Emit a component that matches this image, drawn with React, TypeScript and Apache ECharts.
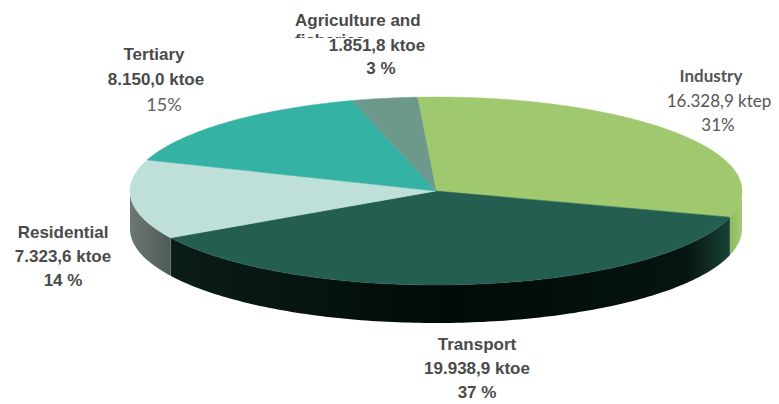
import React, { useEffect, useRef } from "react";
import * as echarts from "echarts";

// ---- data ----
const categories = ["Industry", "Transport", "Residential", "Tertiary", "Agriculture and fisheries"];
const values = [16328.9, 19938.9, 7323.6, 8150.0, 1851.8];
const units = ["ktep", "ktoe", "ktoe", "ktoe", "ktoe"];
const percentLabels = ["31%", "37 %", "14 %", "15%", "3 %"];

// ---- styles ----
const topColors = ["#a0c86f", "#235e51", "#bfe0d9", "#34b3a5", "#6c998c"];
const sideColors: any[] = [
  new echarts.graphic.LinearGradient(0, 0, 1, 0, [
    { offset: 0, color: "#8fb862" },
    { offset: 1, color: "#a4cc74" },
  ]),
  new echarts.graphic.LinearGradient(0, 0, 1, 0, [
    { offset: 0, color: "#0b1d17" },
    { offset: 0.5, color: "#020a07" },
    { offset: 0.92, color: "#06140f" },
    { offset: 1, color: "#1a4236" },
  ]),
  new echarts.graphic.LinearGradient(0, 0, 1, 0, [
    { offset: 0, color: "#6d7875" },
    { offset: 1, color: "#4e5a57" },
  ]),
  "#2a8f84",
  "#567a70",
];

// ---- geometry ----
const CX = 436;
const CY = 191;
const RX = 306;
const RY = 94;
const DEPTH = 38;
const START = -3.5; // degrees, clockwise from top

const total = values.reduce((a, b) => a + b, 0);
const starts: number[] = [];
const ends: number[] = [];
{
  let acc = START;
  values.forEach((v) => {
    starts.push(acc);
    acc += (v / total) * 360;
    ends.push(acc);
  });
}

const rad = (d: number) => (d * Math.PI) / 180;
const pt = (deg: number, dy = 0) => [CX + RX * Math.sin(rad(deg)), CY - RY * Math.cos(rad(deg)) + dy];
const arc = (a1: number, a2: number, dy = 0) => {
  const pts: number[][] = [];
  const n = Math.max(2, Math.ceil(Math.abs(a2 - a1) / 1));
  for (let k = 0; k <= n; k++) pts.push(pt(a1 + ((a2 - a1) * k) / n, dy));
  return pts;
};

const fmt = (v: number) => {
  const [i, d] = v.toFixed(1).split(".");
  return i.replace(/\B(?=(\d{3})+(?!\d))/g, ".") + "," + d;
};

// ---- label layout ----
const BOLD = { fontFamily: "'Liberation Sans', Arial, sans-serif", fontWeight: "bold", fontSize: 17, fill: "#4a4a4a" };
const GILL = { fontFamily: "Lato, 'Open Sans', sans-serif", fontWeight: "bold", fontSize: 17, fill: "#555555" };
const lineGap = 24;

export default function App() {
  const ref = useRef<HTMLDivElement>(null);
  useEffect(() => {
    if (!ref.current) return;
    const chart = echarts.init(ref.current, undefined, { renderer: "svg" });

    const txt = (text: string, x: number, y: number, style: any, align = "center", z = 10) => ({
      type: "text",
      x,
      y,
      z,
      style: { text, align, verticalAlign: "middle", ...style },
    });

    const graphics: any[] = [
      // Industry
      txt(categories[0], 711, 75, GILL),
      txt(`${fmt(values[0])} ${units[0]}`, 719, 100, { ...GILL, fontWeight: "normal", fontSize: 17 }),
      txt(percentLabels[0], 718, 124, { ...GILL, fontWeight: "normal", fontSize: 17 }),
      // Transport
      txt(categories[1], 477, 344, BOLD),
      txt(`${fmt(values[1])} ${units[1]}`, 477, 344 + lineGap, BOLD),
      txt(percentLabels[1], 477, 344 + 2 * lineGap, BOLD),
      // Residential
      txt(categories[2], 63, 232, BOLD),
      txt(`${fmt(values[2])} ${units[2]}`, 63, 232 + lineGap, BOLD),
      txt(percentLabels[2], 63, 232 + 2 * lineGap, BOLD),
      // Tertiary
      txt(categories[3], 154, 54, BOLD),
      txt(`${fmt(values[3])} ${units[3]}`, 156, 79, BOLD),
      txt(percentLabels[3], 164, 104, { ...GILL, fontWeight: "normal", fontSize: 18, fill: "#606060" }),
      // Agriculture and fisheries
      txt("Agriculture and", 295, 20, BOLD, "left"),
      txt("fisheries", 295, 40, BOLD, "left", 10),
      { type: "rect", z: 11, shape: { x: 285, y: 38, width: 150, height: 16 }, style: { fill: "#ffffff" } },
      txt(`${fmt(values[4])} ${units[4]}`, 377, 45, BOLD, "center", 12),
      txt(percentLabels[4], 381, 68, BOLD, "center", 12),
    ];

    chart.setOption({
      animation: false,
      backgroundColor: "#ffffff",
      graphic: graphics,
      series: [
        {
          type: "custom",
          name: "sides",
          coordinateSystem: "none",
          silent: true,
          z: 1,
          data: values.map((v, i) => [i, v]),
          renderItem: (params: any) => {
            const i = params.dataIndex;
            const a1 = Math.max(starts[i], 90);
            const a2 = Math.min(ends[i], 270);
            if (a2 <= a1) return { type: "group", children: [] };
            const top = arc(a1, a2, 0);
            const bottom = arc(a2, a1, DEPTH);
            return {
              type: "polygon",
              shape: { points: top.concat(bottom) },
              style: { fill: sideColors[i], stroke: null },
            };
          },
        },
        {
          type: "custom",
          name: "tops",
          coordinateSystem: "none",
          silent: true,
          z: 2,
          data: values.map((v, i) => [i, v]),
          renderItem: (params: any) => {
            const i = params.dataIndex;
            const pts = [[CX, CY]].concat(arc(starts[i], ends[i], 0));
            return {
              type: "polygon",
              shape: { points: pts },
              style: { fill: topColors[i], stroke: topColors[i], lineWidth: 0.5 },
            };
          },
        },
      ],
    });
    return () => chart.dispose();
  }, []);
  return <div ref={ref} style={{ position: "absolute", left: 0, top: 0, width: 779, height: 404 }} />;
}
